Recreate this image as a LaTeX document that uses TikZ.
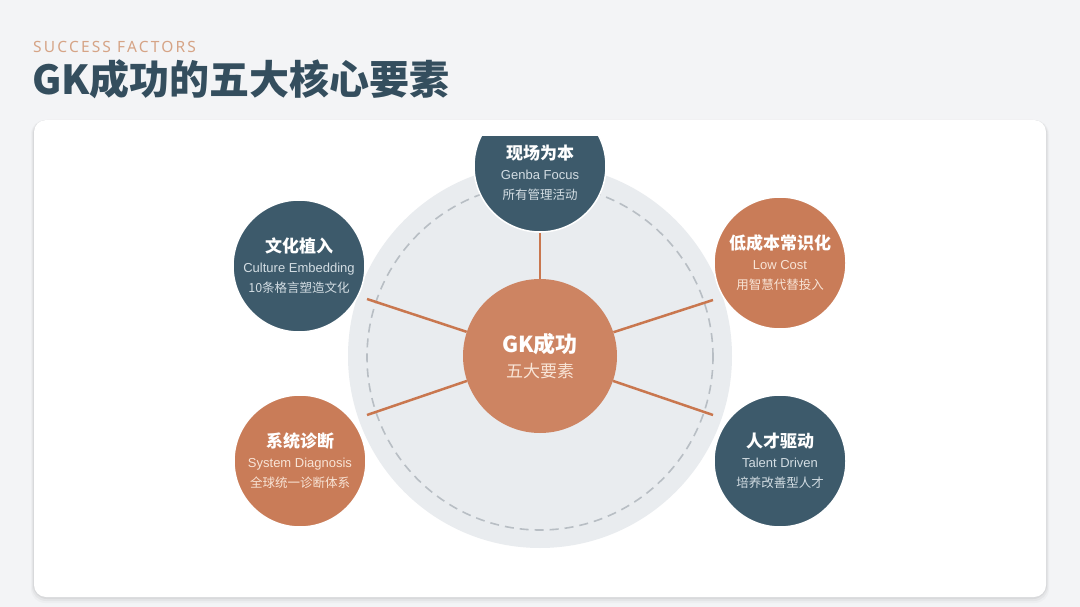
\documentclass[tikz,border=0pt]{standalone}
\usepackage{fontspec}
\setmainfont{Liberation Sans}
\newfontfamily\cjk{Noto Sans CJK SC}
\newfontfamily\en{Liberation Sans}
\newfontfamily\kicker{Noto Sans}[LetterSpace=14]
\definecolor{bgc}{HTML}{F3F4F6}
\definecolor{darkc}{HTML}{3D5A6B}
\definecolor{orc}{HTML}{C97C58}
\definecolor{orcen}{HTML}{CD8462}
\definecolor{lightc}{HTML}{E9ECEF}
\definecolor{dashc}{HTML}{B8BEC4}
\definecolor{linec}{HTML}{C9774F}
\definecolor{titlec}{HTML}{344E5E}
\definecolor{kickc}{HTML}{D6A486}
\definecolor{subdark}{HTML}{D3DDE3}
\definecolor{subor}{HTML}{F8E4D6}
\newcommand{\fac}[4]{{\cjk\bfseries\fontsize{17}{20}\selectfont\color{white}#1}\\{\en\fontsize{13}{20}\selectfont\color{#4}#2}\\{\cjk\fontsize{12.5}{20}\selectfont\color{#4}#3}}
\tikzset{
  fnode/.style={circle,minimum size=132pt,inner sep=0pt,draw=white,line width=1.5pt,align=center,font=\fontsize{13}{20}\selectfont},
  conn/.style={draw=linec,line width=2.5pt},
}
\begin{document}
\begin{tikzpicture}[x=1pt,y=-1pt]
\useasboundingbox (0,0) rectangle (1080,607);
\fill[bgc] (0,0) rectangle (1080,607);
% card shadow
\foreach \o/\a in {6/0.025,4/0.035,2/0.05}{
  \fill[black,opacity=\a,rounded corners=14pt] (34-\o/2,120) rectangle (1046+\o/2,597+\o);
}
\fill[white,rounded corners=12pt] (34,120) rectangle (1046,597);
% titles
\node[anchor=base west,inner sep=0pt,text=kickc,font=\kicker\fontsize{15.5}{18}\selectfont] (kick) at (33,52.5) {SUCCESS FACTORS};
\node[anchor=base west,inner sep=0pt,text=titlec,font=\cjk\bfseries\fontsize{40}{44}\selectfont] (title) at (32,95) {GK成功的五大核心要素};
% backdrop circles
\fill[lightc] (540,356) circle[radius=192pt];
\draw[dashc,line width=1.6pt,dash pattern=on 9pt off 6pt] (540,357) circle[radius=173pt];
% center
\node[circle,fill=orcen,minimum size=154pt,inner sep=0pt,align=center,font=\fontsize{17}{25}\selectfont] (c) at (540,356)
  {{\cjk\bfseries\fontsize{22}{25}\selectfont\color{white}GK成功}\\{\cjk\fontsize{17}{25}\selectfont\color{subor}五大要素}};
% top node, clipped by the card padding
\begin{scope}
\clip (0,137) rectangle (1080,607);
\node[fnode,fill=darkc] (top) at (540,166) {\fac{\rule{0pt}{28pt}现场为本}{Genba Focus}{所有管理活动}{subdark}};
\end{scope}
\node[fnode,fill=darkc] (lt) at (299,266) {\fac{文化植入}{Culture Embedding}{10条格言塑造文化}{subdark}};
\node[fnode,fill=orc] (rt) at (780,263) {\fac{低成本常识化}{Low Cost}{用智慧代替投入}{subor}};
\node[fnode,fill=orc] (lb) at (300,461) {\fac{系统诊断}{System Diagnosis}{全球统一诊断体系}{subor}};
\node[fnode,fill=darkc] (rb) at (780,461) {\fac{人才驱动}{Talent Driven}{培养改善型人才}{subdark}};
% connector ends
\coordinate (elt) at (367,299);
\coordinate (ert) at (713,300);
\coordinate (elb) at (367,415);
\coordinate (erb) at (713,415);
\draw[conn] (c) -- (top);
\draw[conn] (c) -- (elt);
\draw[conn] (c) -- (ert);
\draw[conn] (c) -- (elb);
\draw[conn] (c) -- (erb);
\end{tikzpicture}
\end{document}
